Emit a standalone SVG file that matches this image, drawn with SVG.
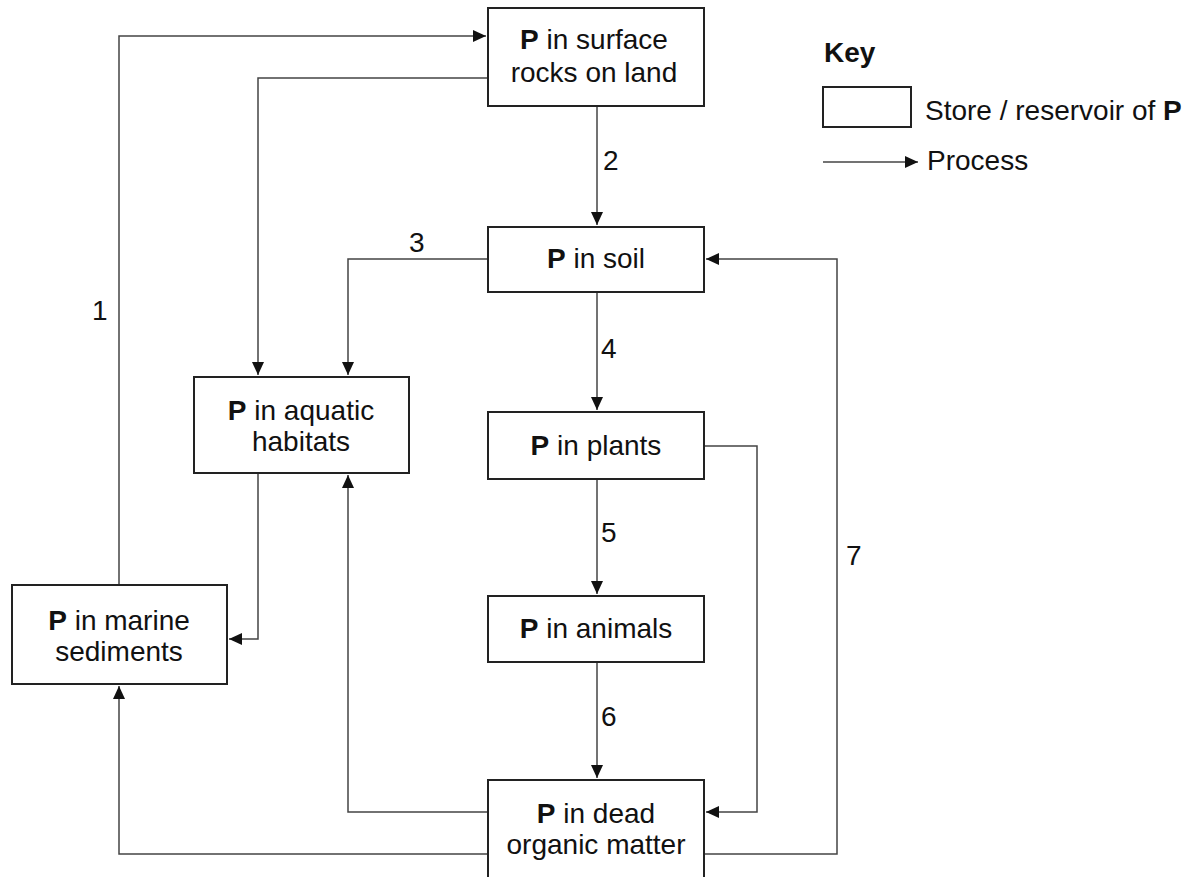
<svg xmlns="http://www.w3.org/2000/svg" width="1203" height="877" viewBox="0 0 1203 877">
<defs>
<marker id="ah" markerUnits="userSpaceOnUse" markerWidth="14" markerHeight="12" refX="13" refY="6" orient="auto">
<path d="M0,0 L13,6 L0,12 z" fill="#111"/>
</marker>
<style>
.box{fill:#fff;stroke:#222;stroke-width:2}
.c{fill:none;stroke:#444;stroke-width:1.5}
.t{font-family:"Liberation Sans",Arial,sans-serif;font-size:28px;fill:#111}
.m{text-anchor:middle}
.b{font-weight:bold}
</style>
</defs>
<rect width="1203" height="877" fill="#fff"/>
<g id="connectors">
<path class="c" d="M119,585 V36 H486" marker-end="url(#ah)"/>
<path class="c" d="M488,78 H258 V375" marker-end="url(#ah)"/>
<path class="c" d="M597,106 V225" marker-end="url(#ah)"/>
<path class="c" d="M488,259 H348 V375" marker-end="url(#ah)"/>
<path class="c" d="M597,292 V410" marker-end="url(#ah)"/>
<path class="c" d="M597,479 V594" marker-end="url(#ah)"/>
<path class="c" d="M597,662 V778" marker-end="url(#ah)"/>
<path class="c" d="M704,446 H757 V812 H706" marker-end="url(#ah)"/>
<path class="c" d="M704,854 H837 V259 H706" marker-end="url(#ah)"/>
<path class="c" d="M488,812 H348 V475" marker-end="url(#ah)"/>
<path class="c" d="M488,854 H119 V686" marker-end="url(#ah)"/>
<path class="c" d="M258,473 V639 H229" marker-end="url(#ah)"/>
<text class="t" x="92" y="320">1</text>
<text class="t" x="603" y="170">2</text>
<text class="t" x="409" y="252">3</text>
<text class="t" x="601" y="358">4</text>
<text class="t" x="601" y="542">5</text>
<text class="t" x="601" y="726">6</text>
<text class="t" x="846" y="565">7</text>
</g>
<g id="surface">
<rect class="box" x="488" y="8" width="216" height="98"/>
<text class="t m" x="594" y="49"><tspan class="b">P</tspan> in surface</text>
<text class="t m" x="594" y="82">rocks on land</text>
</g>
<g id="soil">
<rect class="box" x="488" y="227" width="216" height="65"/>
<text class="t m" x="596" y="268"><tspan class="b">P</tspan> in soil</text>
</g>
<g id="plants">
<rect class="box" x="488" y="412" width="216" height="67"/>
<text class="t m" x="596" y="455"><tspan class="b">P</tspan> in plants</text>
</g>
<g id="animals">
<rect class="box" x="488" y="596" width="216" height="66"/>
<text class="t m" x="596" y="638"><tspan class="b">P</tspan> in animals</text>
</g>
<g id="dead">
<rect class="box" x="488" y="780" width="216" height="110"/>
<text class="t m" x="596" y="823"><tspan class="b">P</tspan> in dead</text>
<text class="t m" x="596" y="854">organic matter</text>
</g>
<g id="aquatic">
<rect class="box" x="194" y="377" width="215" height="96"/>
<text class="t m" x="301" y="420"><tspan class="b">P</tspan> in aquatic</text>
<text class="t m" x="301" y="451">habitats</text>
</g>
<g id="marine">
<rect class="box" x="12" y="585" width="215" height="99"/>
<text class="t m" x="119" y="630"><tspan class="b">P</tspan> in marine</text>
<text class="t m" x="119" y="661">sediments</text>
</g>
<g id="key">
<text class="t b" x="824" y="62">Key</text>
<rect class="box" x="823" y="87" width="88" height="40"/>
<text class="t" x="925" y="120">Store / reservoir of <tspan class="b">P</tspan></text>
<path class="c" d="M823,162 H918" marker-end="url(#ah)"/>
<text class="t" x="927" y="170">Process</text>
</g>
</svg>
